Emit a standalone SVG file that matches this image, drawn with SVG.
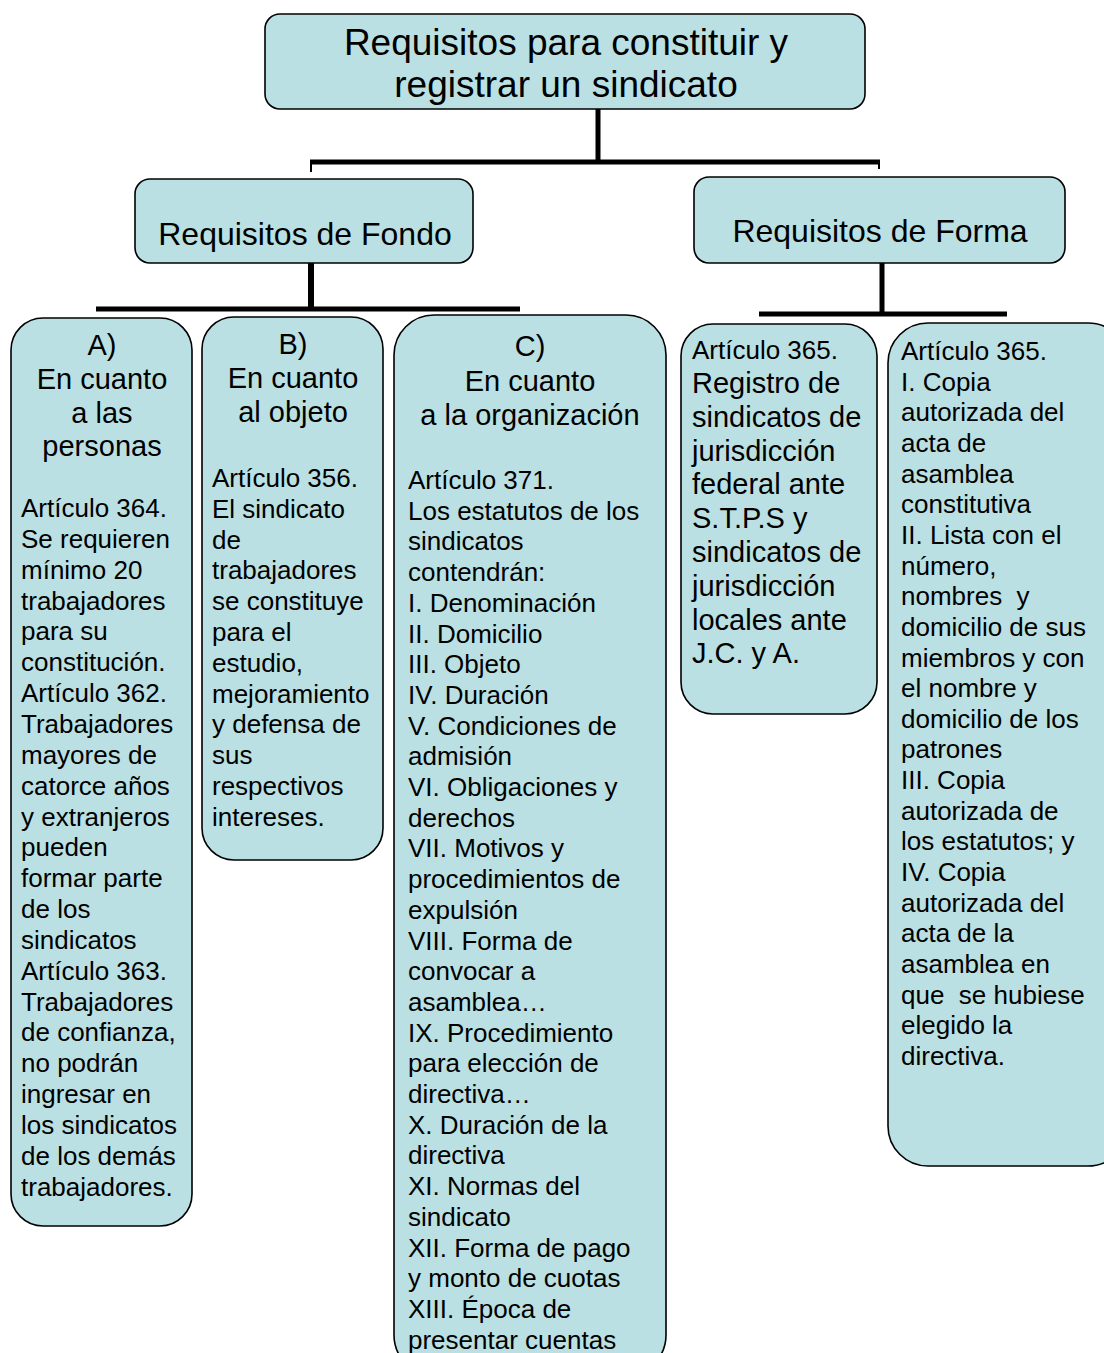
<svg xmlns="http://www.w3.org/2000/svg" width="1104" height="1353" viewBox="0 0 1104 1353">
<style>
.box{fill:#BAE0E3;stroke:#000;stroke-width:1.6}
.t{font-family:"Liberation Sans",Arial,sans-serif;fill:#000}
.title{font-size:37px;text-anchor:middle}
.sub{font-size:32px;text-anchor:middle}
.hd{font-size:29px;text-anchor:middle}
.bd{font-size:26px}
.bl{font-size:29px}
.c{stroke:#000;fill:none}
</style>
<rect width="1104" height="1353" fill="#fff"/>
<g id="connectors">
<line class="c" x1="598" y1="109" x2="598" y2="162" stroke-width="5"/>
<line class="c" x1="310" y1="162" x2="880" y2="162" stroke-width="5"/>
<line class="c" x1="311" y1="162" x2="311" y2="172" stroke-width="2"/>
<line class="c" x1="879" y1="162" x2="879" y2="169" stroke-width="2"/>
<line class="c" x1="311" y1="263" x2="311" y2="309" stroke-width="6"/>
<line class="c" x1="96" y1="309" x2="520" y2="309" stroke-width="5"/>
<line class="c" x1="882" y1="263" x2="882" y2="314" stroke-width="5"/>
<line class="c" x1="759" y1="314" x2="1007" y2="314" stroke-width="5"/>
</g>
<g id="root">
<rect class="box" x="265" y="14" width="600" height="95" rx="15"/>
<text class="t title" x="566"><tspan x="566" y="55">Requisitos para constituir y</tspan><tspan x="566" y="97">registrar un sindicato</tspan></text>
</g>
<g id="fondo">
<rect class="box" x="135" y="179" width="338" height="84" rx="15"/>
<text class="t sub" x="305" y="245">Requisitos de Fondo</text>
</g>
<g id="forma">
<rect class="box" x="694" y="177" width="371" height="86" rx="15"/>
<text class="t sub" x="880" y="242">Requisitos de Forma</text>
</g>
<g id="personas">
<rect class="box" x="11" y="318" width="181" height="908" rx="32"/>
<text class="t hd"><tspan x="102" y="355">A)</tspan><tspan x="102" y="389">En cuanto</tspan><tspan x="102" y="423">a las</tspan><tspan x="102" y="456">personas</tspan></text>
<text class="t bd">
<tspan x="21" y="517">Artículo 364.</tspan>
<tspan x="21" dy="30.85">Se requieren</tspan>
<tspan x="21" dy="30.85">mínimo 20</tspan>
<tspan x="21" dy="30.85">trabajadores</tspan>
<tspan x="21" dy="30.85">para su</tspan>
<tspan x="21" dy="30.85">constitución.</tspan>
<tspan x="21" dy="30.85">Artículo 362.</tspan>
<tspan x="21" dy="30.85">Trabajadores</tspan>
<tspan x="21" dy="30.85">mayores de</tspan>
<tspan x="21" dy="30.85">catorce años</tspan>
<tspan x="21" dy="30.85">y extranjeros</tspan>
<tspan x="21" dy="30.85">pueden</tspan>
<tspan x="21" dy="30.85">formar parte</tspan>
<tspan x="21" dy="30.85">de los</tspan>
<tspan x="21" dy="30.85">sindicatos</tspan>
<tspan x="21" dy="30.85">Artículo 363.</tspan>
<tspan x="21" dy="30.85">Trabajadores</tspan>
<tspan x="21" dy="30.85">de confianza,</tspan>
<tspan x="21" dy="30.85">no podrán</tspan>
<tspan x="21" dy="30.85">ingresar en</tspan>
<tspan x="21" dy="30.85">los sindicatos</tspan>
<tspan x="21" dy="30.85">de los demás</tspan>
<tspan x="21" dy="30.85">trabajadores.</tspan>
</text>
</g>
<g id="objeto">
<rect class="box" x="202" y="317" width="181" height="543" rx="32"/>
<text class="t hd"><tspan x="293" y="354">B)</tspan><tspan x="293" y="388">En cuanto</tspan><tspan x="293" y="422">al objeto</tspan></text>
<text class="t bd">
<tspan x="212" y="487">Artículo 356.</tspan>
<tspan x="212" dy="30.8">El sindicato</tspan>
<tspan x="212" dy="30.8">de</tspan>
<tspan x="212" dy="30.8">trabajadores</tspan>
<tspan x="212" dy="30.8">se constituye</tspan>
<tspan x="212" dy="30.8">para el</tspan>
<tspan x="212" dy="30.8">estudio,</tspan>
<tspan x="212" dy="30.8">mejoramiento</tspan>
<tspan x="212" dy="30.8">y defensa de</tspan>
<tspan x="212" dy="30.8">sus</tspan>
<tspan x="212" dy="30.8">respectivos</tspan>
<tspan x="212" dy="30.8">intereses.</tspan>
</text>
</g>
<g id="organizacion">
<rect class="box" x="394" y="315" width="272" height="1060" rx="40"/>
<text class="t hd"><tspan x="530" y="356">C)</tspan><tspan x="530" y="391">En cuanto</tspan><tspan x="530" y="425">a la organización</tspan></text>
<text class="t bd">
<tspan x="408" y="489">Artículo 371.</tspan>
<tspan x="408" dy="30.7">Los estatutos de los</tspan>
<tspan x="408" dy="30.7">sindicatos</tspan>
<tspan x="408" dy="30.7">contendrán:</tspan>
<tspan x="408" dy="30.7">I. Denominación</tspan>
<tspan x="408" dy="30.7">II. Domicilio</tspan>
<tspan x="408" dy="30.7">III. Objeto</tspan>
<tspan x="408" dy="30.7">IV. Duración</tspan>
<tspan x="408" dy="30.7">V. Condiciones de</tspan>
<tspan x="408" dy="30.7">admisión</tspan>
<tspan x="408" dy="30.7">VI. Obligaciones y</tspan>
<tspan x="408" dy="30.7">derechos</tspan>
<tspan x="408" dy="30.7">VII. Motivos y</tspan>
<tspan x="408" dy="30.7">procedimientos de</tspan>
<tspan x="408" dy="30.7">expulsión</tspan>
<tspan x="408" dy="30.7">VIII. Forma de</tspan>
<tspan x="408" dy="30.7">convocar a</tspan>
<tspan x="408" dy="30.7">asamblea…</tspan>
<tspan x="408" dy="30.7">IX. Procedimiento</tspan>
<tspan x="408" dy="30.7">para elección de</tspan>
<tspan x="408" dy="30.7">directiva…</tspan>
<tspan x="408" dy="30.7">X. Duración de la</tspan>
<tspan x="408" dy="30.7">directiva</tspan>
<tspan x="408" dy="30.7">XI. Normas del</tspan>
<tspan x="408" dy="30.7">sindicato</tspan>
<tspan x="408" dy="30.7">XII. Forma de pago</tspan>
<tspan x="408" dy="30.7">y monto de cuotas</tspan>
<tspan x="408" dy="30.7">XIII. Época de</tspan>
<tspan x="408" dy="30.7">presentar cuentas</tspan>
</text>
</g>
<g id="registro">
<rect class="box" x="681" y="324" width="196" height="390" rx="32"/>
<text class="t bd" x="692" y="359">Artículo 365.</text>
<text class="t bl">
<tspan x="692" y="393">Registro de</tspan>
<tspan x="692" dy="33.8">sindicatos de</tspan>
<tspan x="692" dy="33.8">jurisdicción</tspan>
<tspan x="692" dy="33.8">federal ante</tspan>
<tspan x="692" dy="33.8">S.T.P.S y</tspan>
<tspan x="692" dy="33.8">sindicatos de</tspan>
<tspan x="692" dy="33.8">jurisdicción</tspan>
<tspan x="692" dy="33.8">locales ante</tspan>
<tspan x="692" dy="33.8">J.C. y A.</tspan>
</text>
</g>
<g id="documentos">
<rect class="box" x="888" y="323" width="240" height="843" rx="40"/>
<text class="t bd" xml:space="preserve">
<tspan x="901" y="360">Artículo 365.</tspan>
<tspan x="901" dy="30.65">I. Copia</tspan>
<tspan x="901" dy="30.65">autorizada del</tspan>
<tspan x="901" dy="30.65">acta de</tspan>
<tspan x="901" dy="30.65">asamblea</tspan>
<tspan x="901" dy="30.65">constitutiva</tspan>
<tspan x="901" dy="30.65">II. Lista con el</tspan>
<tspan x="901" dy="30.65">número,</tspan>
<tspan x="901" dy="30.65">nombres  y</tspan>
<tspan x="901" dy="30.65">domicilio de sus</tspan>
<tspan x="901" dy="30.65">miembros y con</tspan>
<tspan x="901" dy="30.65">el nombre y</tspan>
<tspan x="901" dy="30.65">domicilio de los</tspan>
<tspan x="901" dy="30.65">patrones</tspan>
<tspan x="901" dy="30.65">III. Copia</tspan>
<tspan x="901" dy="30.65">autorizada de</tspan>
<tspan x="901" dy="30.65">los estatutos; y</tspan>
<tspan x="901" dy="30.65">IV. Copia</tspan>
<tspan x="901" dy="30.65">autorizada del</tspan>
<tspan x="901" dy="30.65">acta de la</tspan>
<tspan x="901" dy="30.65">asamblea en</tspan>
<tspan x="901" dy="30.65">que  se hubiese</tspan>
<tspan x="901" dy="30.65">elegido la</tspan>
<tspan x="901" dy="30.65">directiva.</tspan>
</text>
</g>
</svg>
